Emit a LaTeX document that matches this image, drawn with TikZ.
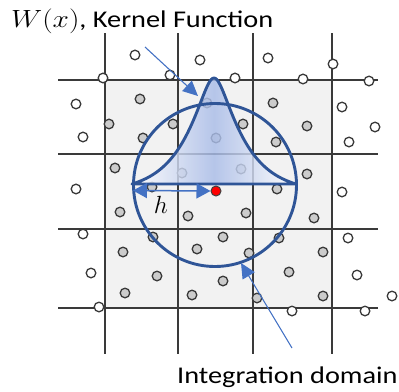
\documentclass[tikz,border=0pt]{standalone}
\usepackage{fontspec}
\setmainfont{Carlito}
\usepackage{graphicx}
\usetikzlibrary{arrows.meta}
\definecolor{gridc}{HTML}{3A3A3A}
\definecolor{gfill}{HTML}{F2F2F2}
\definecolor{partc}{HTML}{3A3A3A}
\definecolor{partg}{HTML}{CCCCCC}
\definecolor{kdark}{HTML}{2F5597}
\definecolor{ablue}{HTML}{4472C4}
\definecolor{kmid}{HTML}{A9BCE8}
\begin{document}
\begin{tikzpicture}[x=1pt,y=-1pt,
  gridline/.style={draw=gridc, line width=1.4pt},
  pw/.style={circle, draw=partc, line width=1.3pt, fill=white, inner sep=0pt, minimum size=9.6pt},
  pg/.style={pw, fill=partg},
  kline/.style={draw=kdark, line width=2.9pt, line join=round},
  parrow/.style={draw=ablue, line width=1.1pt, -{Triangle[length=15pt,width=14pt]}},
  harrow/.style={draw=ablue, line width=1.5pt, {Triangle[length=14pt,width=15pt]}-{Triangle[length=14pt,width=15pt]}},
  reddot/.style={circle, fill=red, draw=black!75, line width=1pt, minimum size=10pt, inner sep=0pt},
  lbl/.style={anchor=base west, inner sep=0pt}
]
\useasboundingbox (0,0) rectangle (399,391);
% shaded cells
\fill[gfill] (105,80) rectangle (332,308);
% grid
\foreach \gx in {105,178,253,332} \draw[gridline] (\gx,33) -- (\gx,354);
\foreach \gy in {80,154,229,308} \draw[gridline] (58,\gy) -- (378,\gy);
% particles outside / on the border
\foreach \a/\b [count=\i] in {135/55,170/75,103/78,76/104,200/60,268/58,333/64,235/78,303/79,369/81,342/107,375/127,83/137,76/189,83/234,349/142,342/192,348/238,91/273,99/307,357/275,392/296,292/311,365/311}
  \node[pw] (w\i) at (\a,\b) {};
% particles inside
\foreach \a/\b [count=\i] in {140/99,109/124,173/124,273/103,243/124,307/126,143/138,115/168,182/173,152/187,120/212,188/216,153/237,123/252,197/249,207/103,216/138,276/142,241/169,307/174,277/189,246/213,314/218,223/237,279/238,249/253,323/252,157/276,125/293,192/295,223/281,289/272,257/298,323/296}
  \node[pg] (g\i) at (\a,\b) {};
% kernel function
\path[shading=axis, left color=white, right color=white, middle color=kmid, fill opacity=0.82]
  plot[domain=-82:82, samples=121] ({214+\x},{184-106*(exp(-(sqrt(\x*\x+100)-10)/28)-0.0748)/0.9252}) -- cycle;
\draw[kline]
  plot[domain=-82:82, samples=121] ({214+\x},{184-106*(exp(-(sqrt(\x*\x+100)-10)/28)-0.0748)/0.9252}) -- cycle;
% integration domain
\draw[kline] (215,185) circle[radius=81.5];
% smoothing length
\node[reddot] (rd) at (216,191) {};
\coordinate (hl) at (133,190.5);
\draw[harrow] (hl) -- (rd.west);
\node[inner sep=0pt] (hlab) at (161,204.5) {\fontsize{27}{27}\selectfont $h$};
% pointers
\coordinate (kp) at (145,47);
\coordinate (kt) at (198,96);
\draw[parrow] (kp) -- (kt);
\coordinate (ip) at (292,348);
\coordinate (it) at (241,263);
\draw[parrow] (ip) -- (it);
% labels
\node[lbl] (title) at (11,27) {\scalebox{1.18}[1]{\fontsize{24}{28}\selectfont $W(x)$, Kernel Function}};
\node[lbl] (dom) at (177,383) {\scalebox{1.18}[1]{\fontsize{24}{28}\selectfont Integration domain}};
\end{tikzpicture}
\end{document}
